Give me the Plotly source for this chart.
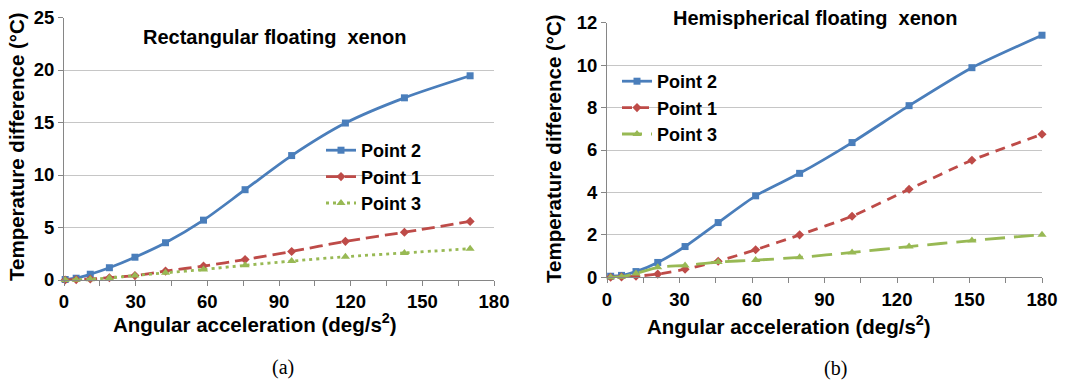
import plotly.graph_objects as go

W, H = 1077, 381

# ---------------- data ----------------
# (a) Rectangular floating xenon
acc_a = [0.5, 5.1, 11, 19, 29.7, 42.5, 58.4, 75.8, 95.3, 117.8, 142.5, 170]
a_point2 = [0.05, 0.17, 0.55, 1.17, 2.17, 3.55, 5.7, 8.6, 11.85, 14.95, 17.35, 19.45]
a_point1 = [0.0, 0.04, 0.1, 0.22, 0.42, 0.85, 1.33, 1.95, 2.72, 3.68, 4.55, 5.58]
a_point3 = [0.0, 0.02, 0.07, 0.2, 0.42, 0.68, 1.0, 1.4, 1.8, 2.22, 2.58, 2.98]

# (b) Hemispherical floating xenon
acc_b = [1.5, 6, 12, 21, 32.3, 46, 61.5, 79.7, 101.4, 125, 151, 180]
b_point2 = [0.05, 0.09, 0.27, 0.7, 1.45, 2.58, 3.84, 4.9, 6.35, 8.09, 9.88, 11.41]
b_point1 = [0.0, 0.02, 0.05, 0.15, 0.38, 0.76, 1.3, 2.0, 2.88, 4.15, 5.52, 6.74]
b_point3 = [0.0, 0.03, 0.18, 0.47, 0.56, 0.72, 0.81, 0.94, 1.17, 1.45, 1.73, 2.01]

series_names = ["Point 2", "Point 1", "Point 3"]
x_ticks = [0, 30, 60, 90, 120, 150, 180]
a_yticks = [0, 5, 10, 15, 20, 25]
b_yticks = [0, 2, 4, 6, 8, 10, 12]

# ---------------- styles ----------------
BLUE = "#4A7EBB"
RED = "#BE4B48"
GREEN = "#98B954"
AX = "#868686"
GRID = "#C6C6C6"
SANS = "Liberation Sans, Arial, sans-serif"
SERIF = "Liberation Serif, Times New Roman, serif"


def px_x(p):
    return p / W


def px_y(p):
    return 1 - p / H


fig = go.Figure()

styles_a = [
    dict(color=BLUE, dash="solid", symbol="square", size=7),
    dict(color=RED, dash="13px,6px", symbol="diamond", size=7),
    dict(color=GREEN, dash="3px,4px", symbol="triangle-up", size=8),
]
styles_b = [
    dict(color=BLUE, dash="solid", symbol="square", size=7),
    dict(color=RED, dash="10px,7px", symbol="diamond", size=7),
    dict(color=GREEN, dash="20px,9px", symbol="triangle-up", size=8),
]

for name, ys, st in zip(series_names, [a_point2, a_point1, a_point3], styles_a):
    fig.add_trace(go.Scatter(
        x=acc_a, y=ys, name=name, mode="lines+markers",
        line=dict(color=st["color"], width=2.8, dash=st["dash"], shape="spline", smoothing=0.8),
        marker=dict(symbol=st["symbol"], size=st["size"], color=st["color"]),
        xaxis="x", yaxis="y", legend="legend", cliponaxis=False,
    ))

for name, ys, st in zip(series_names, [b_point2, b_point1, b_point3], styles_b):
    fig.add_trace(go.Scatter(
        x=acc_b, y=ys, name=name, mode="lines+markers",
        line=dict(color=st["color"], width=2.8, dash=st["dash"], shape="spline", smoothing=0.6),
        marker=dict(symbol=st["symbol"], size=st["size"], color=st["color"]),
        xaxis="x2", yaxis="y2", legend="legend2", cliponaxis=False,
    ))

tickfont = dict(family=SANS, size=18.5, color="black", weight="bold")

common_x = dict(
    range=[0, 180], tickvals=x_ticks, showline=True, linecolor=AX, linewidth=1,
    ticks="outside", ticklen=5, tickcolor=AX, showgrid=False, zeroline=False,
    tickfont=tickfont, fixedrange=True, automargin=False,
    minor=dict(dtick=15, tick0=0, ticks="outside", ticklen=5, tickcolor=AX, showgrid=False),
)
common_y = dict(
    showline=True, linecolor=AX, linewidth=1, ticks="outside", ticklen=5, tickcolor=AX,
    showgrid=True, gridcolor=GRID, gridwidth=1, zeroline=False, tickfont=tickfont,
    fixedrange=True, automargin=False,
)

legend_font = dict(family=SANS, size=18, color="black", weight="bold")

fig.update_layout(
    width=W, height=H,
    margin=dict(l=0, r=0, t=0, b=0, autoexpand=False),
    paper_bgcolor="white", plot_bgcolor="white",
    xaxis=dict(domain=[px_x(64), px_x(494)], anchor="y", **common_x),
    yaxis=dict(domain=[px_y(280), px_y(17.5)], anchor="x", range=[0, 25], tickvals=a_yticks, **common_y),
    xaxis2=dict(domain=[px_x(607), px_x(1042)], anchor="y2", **common_x),
    yaxis2=dict(domain=[px_y(277.3), px_y(22.7)], anchor="x2", range=[0, 12], tickvals=b_yticks, **common_y),
    legend=dict(x=px_x(321), y=px_y(132), xanchor="left", yanchor="top", font=legend_font,
                bgcolor="rgba(0,0,0,0)", tracegroupgap=0, itemwidth=30),
    legend2=dict(x=px_x(617), y=px_y(63), xanchor="left", yanchor="top", font=legend_font,
                 bgcolor="rgba(0,0,0,0)", tracegroupgap=0, itemwidth=30),
    showlegend=True,
)

title_font = dict(family=SANS, size=20, color="black", weight="bold")
axis_font = dict(family=SANS, size=20.5, color="black", weight="bold")

annotations = [
    dict(text="Rectangular floating\u00a0 xenon", x=px_x(274), y=px_y(37), font=title_font),
    dict(text="Hemispherical floating\u00a0 xenon", x=px_x(815), y=px_y(18), font=title_font),
    dict(text="Temperature difference (°C)", x=px_x(16), y=px_y(147), textangle=-90, font=axis_font),
    dict(text="Temperature difference (°C)", x=px_x(553), y=px_y(148), textangle=-90, font=axis_font),
    dict(text="Angular acceleration (deg/s<sup>2</sup>)", x=px_x(255), y=px_y(323), font=axis_font),
    dict(text="Angular acceleration (deg/s<sup>2</sup>)", x=px_x(789), y=px_y(325), font=axis_font),
    dict(text="(a)", x=px_x(283), y=px_y(367), font=dict(family=SERIF, size=20, color="black")),
    dict(text="(b)", x=px_x(835), y=px_y(368), font=dict(family=SERIF, size=20, color="black")),
]
for a in annotations:
    a.update(xref="paper", yref="paper", showarrow=False, xanchor="center", yanchor="middle")
fig.update_layout(annotations=annotations)

fig.write_html(
    "out.html",
    config={"displayModeBar": False, "staticPlot": True},
    post_script="document.body.style.margin='0px';document.body.style.overflow='hidden';",
)
